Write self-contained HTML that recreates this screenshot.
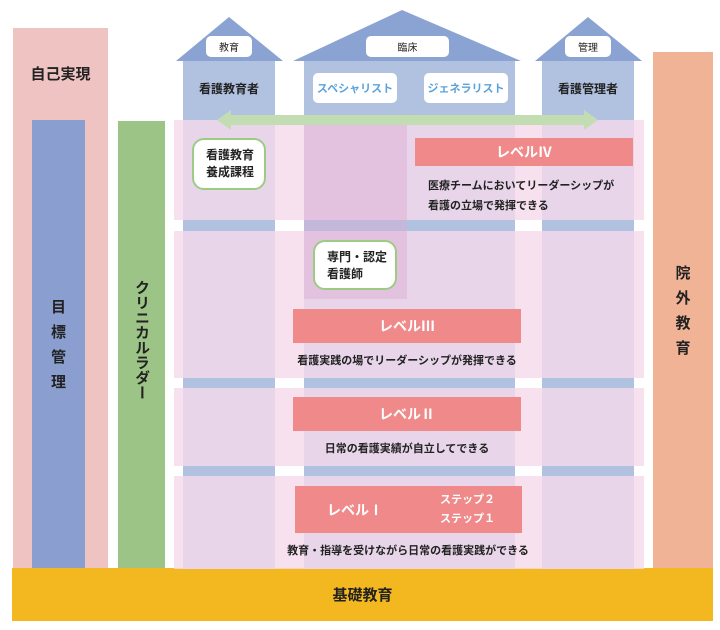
<!DOCTYPE html>
<html><head><meta charset="utf-8"><style>
body{margin:0;width:720px;height:630px;background:#fff;position:relative;overflow:hidden;font-family:"Liberation Sans","Noto Sans CJK JP",sans-serif;font-weight:bold;color:#222}
div{position:absolute;box-sizing:border-box}
.c{display:flex;align-items:center;justify-content:center;text-align:center}
.pil{background:#b0c2e0}
.band{left:174px;width:470px;background:rgba(246,218,235,0.8)}
.lv{background:#f08a8a;color:#fff;font-size:14px}
.t{font-size:11px;color:#222;white-space:nowrap}
.tag{background:#fff;border-radius:5px;font-size:10px;font-weight:normal}
.gb{background:#fff;border:2px solid #9ccc84;border-radius:12px;font-size:12px;line-height:17px;text-align:left;padding:7px 0 0 12px}
</style></head><body>
<div style="left:13px;top:28px;width:95px;height:541px;background:#f0c3c3"></div>
<div class="c" style="left:13px;top:58px;width:95px;height:30px;font-size:15px">自己実現</div>
<div class="c" style="left:32px;top:120px;width:53px;height:449px;background:#8a9ed0;font-size:15px;line-height:25px">目<br>標<br>管<br>理</div>
<div class="c" style="left:118px;top:121px;width:47px;height:448px;background:#9cc486;font-size:15px;writing-mode:vertical-rl;padding-bottom:10px">クリニカルラダー</div>
<div class="c" style="left:653px;top:52px;width:60px;height:517px;background:#f1b395;font-size:15px;line-height:25px">院<br>外<br>教<br>育</div>
<div class="c" style="left:12px;top:568px;width:701px;height:53px;background:#f3b81f;font-size:15px">基礎教育</div>
<svg style="position:absolute;left:0;top:0" width="720" height="630">
<polygon points="176,61 229,17 283,61" fill="#8aa3d3"/>
<polygon points="293,61 402,10 521,61" fill="#8aa3d3"/>
<polygon points="535,61 588,17 642,61" fill="#8aa3d3"/>
</svg>
<div class="pil" style="left:183px;top:61px;width:92px;height:508px"></div>
<div class="pil" style="left:304px;top:61px;width:211px;height:508px"></div>
<div class="pil" style="left:542px;top:61px;width:92px;height:508px"></div>
<div class="band" style="top:120px;height:100px"></div>
<div class="band" style="top:231px;height:147px"></div>
<div class="band" style="top:388px;height:78px"></div>
<div class="band" style="top:476px;height:93px"></div>
<div style="left:304px;top:120px;width:103px;height:179px;background:rgba(220,170,210,0.45)"></div>
<div class="c tag" style="left:206px;top:36px;width:46px;height:21px">教育</div>
<div class="c tag" style="left:366px;top:36px;width:83px;height:21px">臨床</div>
<div class="c tag" style="left:565px;top:36px;width:46px;height:21px">管理</div>
<div class="c" style="left:183px;top:76px;width:92px;height:24px;font-size:12px">看護教育者</div>
<div class="c" style="left:542px;top:76px;width:92px;height:24px;font-size:12px">看護管理者</div>
<div class="c tag" style="left:313px;top:73px;width:84px;height:30px;color:#5aa2db;font-weight:bold;font-size:11px">スペシャリスト</div>
<div class="c tag" style="left:424px;top:73px;width:84px;height:30px;color:#5aa2db;font-weight:bold;font-size:11px">ジェネラリスト</div>
<svg style="position:absolute;left:0;top:0" width="720" height="630">
<polygon points="217,120 231,110 231,115 584,115 584,110 598,120 584,130 584,125 231,125 231,130" fill="#c3ddb3"/>
</svg>
<div class="gb" style="left:192px;top:138px;width:74px;height:52px">看護教育<br>養成課程</div>
<div class="gb" style="left:313px;top:240px;width:84px;height:50px">専門・認定<br>看護師</div>
<div class="c lv" style="left:415px;top:138px;width:218px;height:28px">レベルⅣ</div>
<div class="t" style="left:428px;top:176px;line-height:20px">医療チームにおいてリーダーシップが<br>看護の立場で発揮できる</div>
<div class="c lv" style="left:293px;top:309px;width:228px;height:34px">レベルⅢ</div>
<div class="c t" style="left:293px;top:350px;width:228px;height:20px">看護実践の場でリーダーシップが発揮できる</div>
<div class="c lv" style="left:293px;top:397px;width:228px;height:34px">レベルⅡ</div>
<div class="c t" style="left:293px;top:438px;width:228px;height:20px">日常の看護実績が自立してできる</div>
<div class="lv" style="left:295px;top:486px;width:227px;height:47px"></div>
<div class="c" style="left:320px;top:498px;width:70px;height:24px;color:#fff;font-size:14px">レベルⅠ</div>
<div class="t" style="left:440px;top:491px;color:#fff;line-height:19px;font-size:11px">ステップ２<br>ステップ１</div>
<div class="c t" style="left:270px;top:540px;width:276px;height:20px">教育・指導を受けながら日常の看護実践ができる</div>
</body></html>
